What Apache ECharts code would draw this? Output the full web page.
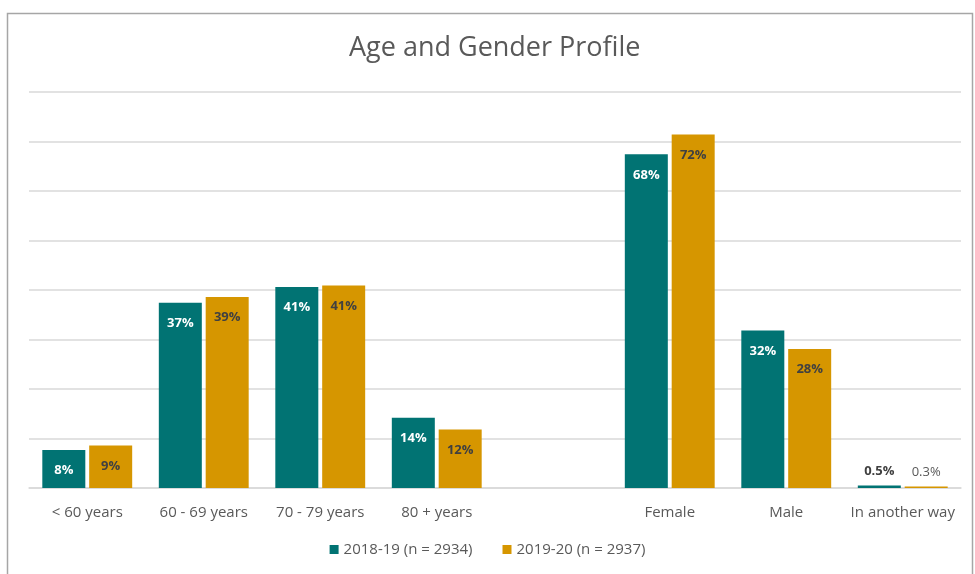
<!DOCTYPE html>
<html>
<head>
<meta charset="utf-8">
<script src="https://cdn.jsdelivr.net/npm/echarts@6/dist/echarts.min.js"></script>
<style>
html, body { margin: 0; padding: 0; background: #fff; }
#chart { width: 975px; height: 574px; }
</style>
</head>
<body>
<div id="chart"></div>
<script>
var categories = ['< 60 years', '60 - 69 years', '70 - 79 years', '80 + years', '', 'Female', 'Male', 'In another way'];
var series1Name = '2018-19 (n = 2934)';
var series2Name = '2019-20 (n = 2937)';
var values1 = [7.7, 37.4, 40.6, 14.2, null, 67.4, 31.8, 0.5];
var values2 = [8.6, 38.6, 40.9, 11.8, null, 71.4, 28.1, 0.3];
var labels1 = ['8%', '37%', '41%', '14%', '', '68%', '32%', '0.5%'];
var labels2 = ['9%', '39%', '41%', '12%', '', '72%', '28%', '0.3%'];

var chart = echarts.init(document.getElementById('chart'));

// small values get their label above the bar, like the original
function buildData(vals, texts, insideColor, outsideColor, outsideWeight) {
    return vals.map(function (v, i) {
        if (v === null) return '-';
        var small = v < 3;
        return {
            value: v,
            label: {
                formatter: texts[i],
                position: small ? 'top' : 'insideTop',
                distance: small ? 8 : 14,
                color: small ? outsideColor : insideColor,
                fontWeight: small ? outsideWeight : 'bold'
            }
        };
    });
}

var option = {
    backgroundColor: '#fff',
    animation: false,
    title: {
        text: 'Age and Gender Profile',
        left: 344,
        top: 30,
        textStyle: {
            fontFamily: 'Open Sans',
            fontSize: 27,
            fontWeight: 'normal',
            color: '#595959'
        }
    },
    graphic: [{
        type: 'rect',
        shape: { x: 7.5, y: 13.5, width: 965, height: 600 },
        style: { fill: 'none', stroke: '#a6a6a6', lineWidth: 1.5 },
        silent: true
    }],
    legend: {
        top: 537,
        left: 'center',
        itemWidth: 9,
        itemHeight: 9,
        itemGap: 30,
        icon: 'rect',
        textStyle: { fontFamily: 'Open Sans', fontSize: 15, color: '#595959' },
        data: [series1Name, series2Name]
    },
    grid: { left: 29, right: 14, top: 92, bottom: 86 },
    xAxis: {
        type: 'category',
        data: categories,
        axisLine: { lineStyle: { color: '#d9d9d9', width: 1.5 } },
        axisTick: { show: false },
        axisLabel: { fontFamily: 'Open Sans', fontSize: 15, color: '#595959', margin: 17, interval: 0 }
    },
    yAxis: {
        type: 'value',
        min: 0,
        max: 80,
        interval: 10,
        axisLabel: { show: false },
        axisLine: { show: false },
        axisTick: { show: false },
        splitLine: { lineStyle: { color: '#d9d9d9', width: 1.5 } }
    },
    series: [
        {
            name: series1Name,
            type: 'bar',
            barWidth: 43,
            barGap: '9%',
            itemStyle: { color: '#017373' },
            label: { show: true, fontFamily: 'Open Sans', fontSize: 13 },
            data: buildData(values1, labels1, '#ffffff', '#404040', 'bold')
        },
        {
            name: series2Name,
            type: 'bar',
            barWidth: 43,
            barGap: '9%',
            itemStyle: { color: '#d69600' },
            label: { show: true, fontFamily: 'Open Sans', fontSize: 13 },
            data: buildData(values2, labels2, '#404040', '#595959', 'normal')
        }
    ]
};
chart.setOption(option);
</script>
</body>
</html>
